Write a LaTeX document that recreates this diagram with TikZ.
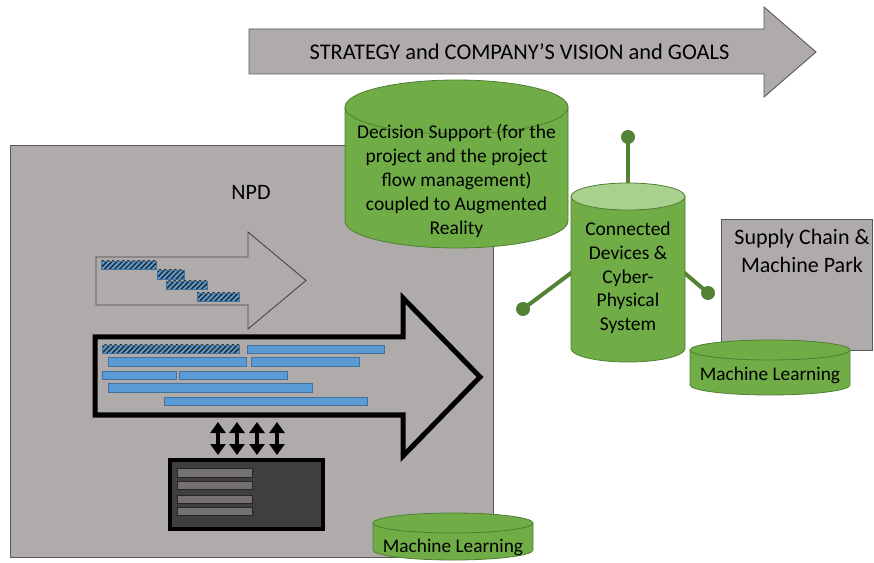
\documentclass[tikz,border=0pt]{standalone}
\usepackage{fontspec}
\setmainfont{Carlito}
\usetikzlibrary{arrows.meta,patterns.meta}
\definecolor{bggray}{HTML}{AFABAB}
\definecolor{edgegray}{HTML}{595959}
\definecolor{cgreen}{HTML}{70AD47}
\definecolor{cgreenedge}{HTML}{507E32}
\definecolor{clight}{HTML}{A9D18E}
\definecolor{cdark}{HTML}{548235}
\definecolor{bbar}{HTML}{5B9BD5}
\definecolor{bbaredge}{HTML}{41719C}
\definecolor{dbox}{HTML}{3F3F3F}
\definecolor{ibar}{HTML}{767171}
\newcommand{\mycyl}[6]{%
  \fill[cgreen] (#1-#2,#3) -- (#1-#2,#4) arc[start angle=180,end angle=360,x radius=#2,y radius=#5] -- (#1+#2,#3) -- cycle;
  \draw[cylline] (#1-#2,#3) -- (#1-#2,#4) arc[start angle=180,end angle=360,x radius=#2,y radius=#5] -- (#1+#2,#3);
  \draw[cylline,fill=#6] (#1,#3) ellipse[x radius=#2,y radius=#5];
}
\newcommand{\hatchbar}[4]{%
  \fill[bbar] (#1,#3) rectangle (#2,#4);
  \fill[pattern={Lines[angle=45,distance=3.6pt,line width=1.4pt]},pattern color=black!85] (#1,#3) rectangle (#2,#4);
  \draw[bbaredge,line width=0.6] (#1,#3) rectangle (#2,#4);
}
\newcommand{\bluebar}[4]{%
  \draw[bbaredge,line width=0.6,fill=bbar] (#1,#3) rectangle (#2,#4);
}
\begin{document}
\begin{tikzpicture}[x=1pt,y=1pt,
  panel/.style={draw=edgegray,line width=0.9,fill=bggray},
  cylline/.style={draw=cgreenedge,line width=0.8},
  thinarrow/.style={draw=edgegray!80!black,line width=0.9,fill=bggray},
  bigarrow/.style={draw=black,line width=5,fill=bggray,line join=miter},
  ant/.style={draw=cdark,line width=4},
  antdot/.style={fill=cdark},
  lbl/.style={text=black,align=center,inner sep=0pt},
  dbl/.style={line width=3.5,{Triangle[length=11pt,width=15pt]}-{Triangle[length=11pt,width=15pt]}},
  graybar/.style={draw=black!85,line width=0.7,fill=ibar}
]
\useasboundingbox (0,0) rectangle (874,562);

% NPD panel
\draw[panel] (10,5) rectangle (493,417);
\node[lbl,font=\fontsize{22}{26}\selectfont] (npd) at (251,370) {NPD};

% small arrow with planning bars
\draw[thinarrow] (96,305) -- (248,305) -- (248,330) -- (306,281.5) -- (248,233) -- (248,257) -- (96,257) -- cycle;
\hatchbar{101}{156}{301}{293}
\hatchbar{157}{184}{292}{283}
\hatchbar{166}{207}{281}{273}
\hatchbar{197}{239}{269}{261}

% big arrow with bars
\draw[bigarrow] (95,225) -- (403,225) -- (403,264) -- (480,185) -- (403,106) -- (403,147) -- (95,147) -- cycle;
\hatchbar{102}{239}{217}{209}
\bluebar{247}{384}{217}{209}
\bluebar{108}{246}{205}{196}
\bluebar{251}{359}{205}{196}
\bluebar{102}{176}{191}{183}
\bluebar{179}{287}{191}{183}
\bluebar{108}{312}{179}{170}
\bluebar{164}{367}{165}{157}

% double arrows
\coordinate (a1t) at (218,140); \coordinate (a1b) at (218,107);
\coordinate (a2t) at (237,140); \coordinate (a2b) at (237,107);
\coordinate (a3t) at (257,140); \coordinate (a3b) at (257,107);
\coordinate (a4t) at (277,140); \coordinate (a4b) at (277,107);
\draw[dbl] (a1t) -- (a1b);
\draw[dbl] (a2t) -- (a2b);
\draw[dbl] (a3t) -- (a3b);
\draw[dbl] (a4t) -- (a4b);

% dark box
\draw[draw=black,line width=4,fill=dbox] (170,33) rectangle (323,102);
\draw[graybar] (177,94) rectangle (252,85);
\draw[graybar] (177,81) rectangle (252,73);
\draw[graybar] (177,67) rectangle (252,59);
\draw[graybar] (177,55) rectangle (252,47);

% bottom machine learning cylinder
\mycyl{453}{80}{39}{12}{10}{cgreen}
\node[lbl,font=\fontsize{19.3}{23.5}\selectfont] (ml1) at (453,15) {Machine Learning};

% top strategy arrow
\draw[panel] (249,533) -- (764,533) -- (764,555) -- (816,510) -- (764,465) -- (764,488) -- (249,488) -- cycle;
\node[lbl,font=\fontsize{22.4}{27}\selectfont] (strat) at (519.5,510) {STRATEGY and COMPANY’S VISION and GOALS};

% decision support cylinder
\mycyl{456.5}{111.5}{455}{341}{27}{cgreen}
\node[lbl,font=\fontsize{19.5}{23.8}\selectfont] (ds) at (456.5,381) {Decision Support (for the\\project and the project\\flow management)\\coupled to Augmented\\Reality};

% connected devices cylinder with antennas
\coordinate (antT) at (628,425);
\coordinate (antL) at (523,253);
\coordinate (antR) at (708,269);
\draw[ant] (628,372) -- (antT);
\draw[ant] (575,292) -- (antL);
\draw[ant] (681,292) -- (antR);
\fill[antdot] (antT) circle[radius=7];
\fill[antdot] (antL) circle[radius=7];
\fill[antdot] (antR) circle[radius=7];
\mycyl{628}{57}{365.5}{213.5}{13.5}{clight}
\node[lbl,font=\fontsize{19.5}{23.8}\selectfont] (cd) at (628,284) {Connected\\Devices \&\\Cyber-\\Physical\\System};

% supply chain box
\draw[panel] (721,212) rectangle (872,343);
\node[lbl,font=\fontsize{22}{28}\selectfont] (sc) at (802,311) {Supply Chain \&\\Machine Park};

% right machine learning cylinder
\mycyl{770}{80}{212}{177}{10}{cgreen}
\node[lbl,font=\fontsize{19.3}{23.5}\selectfont] (ml2) at (770,187) {Machine Learning};
\end{tikzpicture}
\end{document}
